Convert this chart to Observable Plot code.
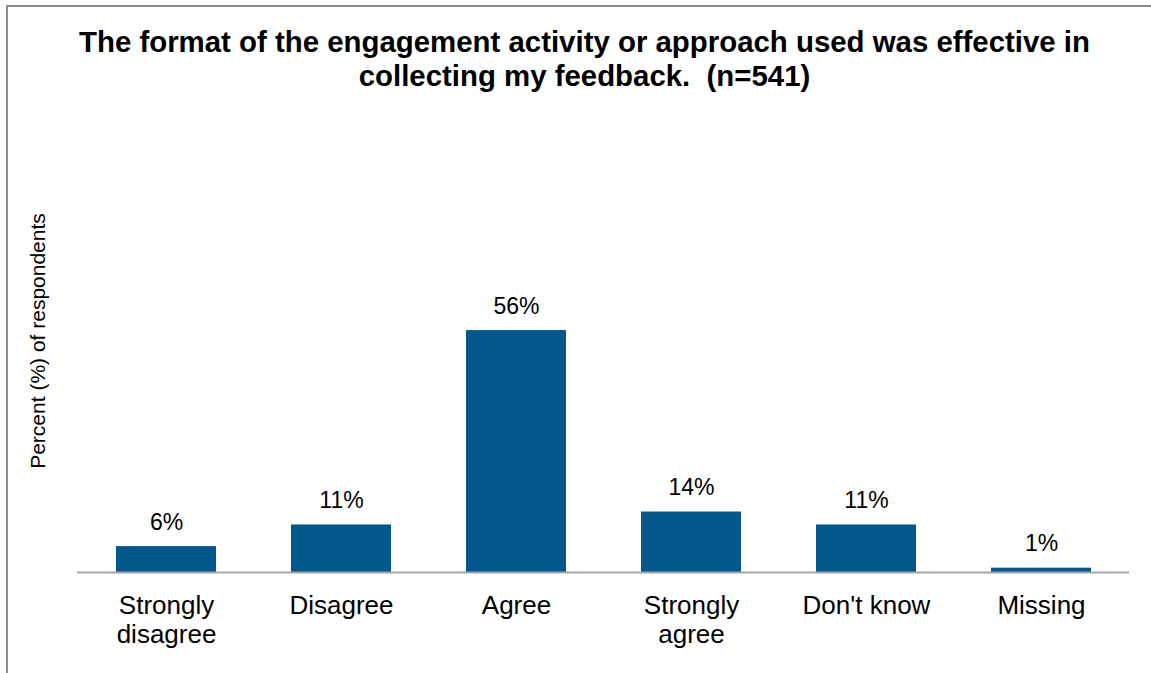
<!DOCTYPE html>
<html>
<head>
<meta charset="utf-8">
<script src="https://cdn.jsdelivr.net/npm/d3@7"></script>
<script src="https://cdn.jsdelivr.net/npm/@observablehq/plot@0.6"></script>
<style>
  html, body { margin: 0; padding: 0; background: #fff; }
  #frame {
    position: relative; width: 1151px; height: 673px; overflow: hidden;
    font-family: "Liberation Sans", Arial, sans-serif; color: #000;
  }
  #border {
    position: absolute; left: 6px; top: 5px; right: -10px; bottom: -10px;
    border-left: 2px solid #8c8c8c; border-top: 2px solid #8c8c8c;
  }
  #title {
    position: absolute; left: 0; width: 1169px; top: 25px;
    text-align: center; font-weight: bold; font-size: 29.4px; line-height: 34px;
    white-space: pre;
  }
  #ylabel {
    position: absolute; left: 38px; top: 341px;
    transform: translate(-50%, -50%) rotate(-90deg);
    font-size: 21px; white-space: nowrap;
  }
  #chart { position: absolute; left: 0; top: 0; }
</style>
</head>
<body>
<div id="frame">
  <div id="border"></div>
  <div id="chart"></div>
  <div id="title"></div>
  <div id="ylabel"></div>
</div>
<script>
// Survey responses: share of respondents per answer
const categories = ["Strongly\ndisagree", "Disagree", "Agree", "Strongly\nagree", "Don't know", "Missing"];
const percents = [6, 11, 56, 14, 11, 1];
const titleText = "The format of the engagement activity or approach used was effective in\ncollecting my feedback.  (n=541)";
const yLabel = "Percent (%) of respondents";

const rows = categories.map((c, i) => ({category: c, pct: percents[i]}));

document.getElementById("title").textContent = titleText;
document.getElementById("ylabel").textContent = yLabel;

const chart = Plot.plot({
  width: 1151,
  height: 673,
  marginLeft: 77,
  marginRight: 22,
  marginTop: 140,
  marginBottom: 101,
  style: {fontFamily: "'Liberation Sans', Arial, sans-serif", color: "#000", background: "transparent"},
  x: {domain: categories, paddingInner: 0.43, paddingOuter: 0.215, label: null},
  y: {domain: [0, 100], axis: null},
  marks: [
    Plot.barY(rows, {x: "category", y: "pct", fill: "#02578C"}),
    Plot.ruleY([0], {stroke: "#a6a6a6", strokeWidth: 2}),
    Plot.text(rows, {
      x: "category", y: "pct", text: d => d.pct + "%",
      lineAnchor: "bottom", dy: -17, fontSize: 23, fill: "#000"
    }),
    Plot.axisX({
      tickSize: 0, tickPadding: 21, fontSize: 26, lineHeight: 1.12,
      label: null, fill: "#000"
    })
  ]
});
document.getElementById("chart").appendChild(chart);
</script>
</body>
</html>
